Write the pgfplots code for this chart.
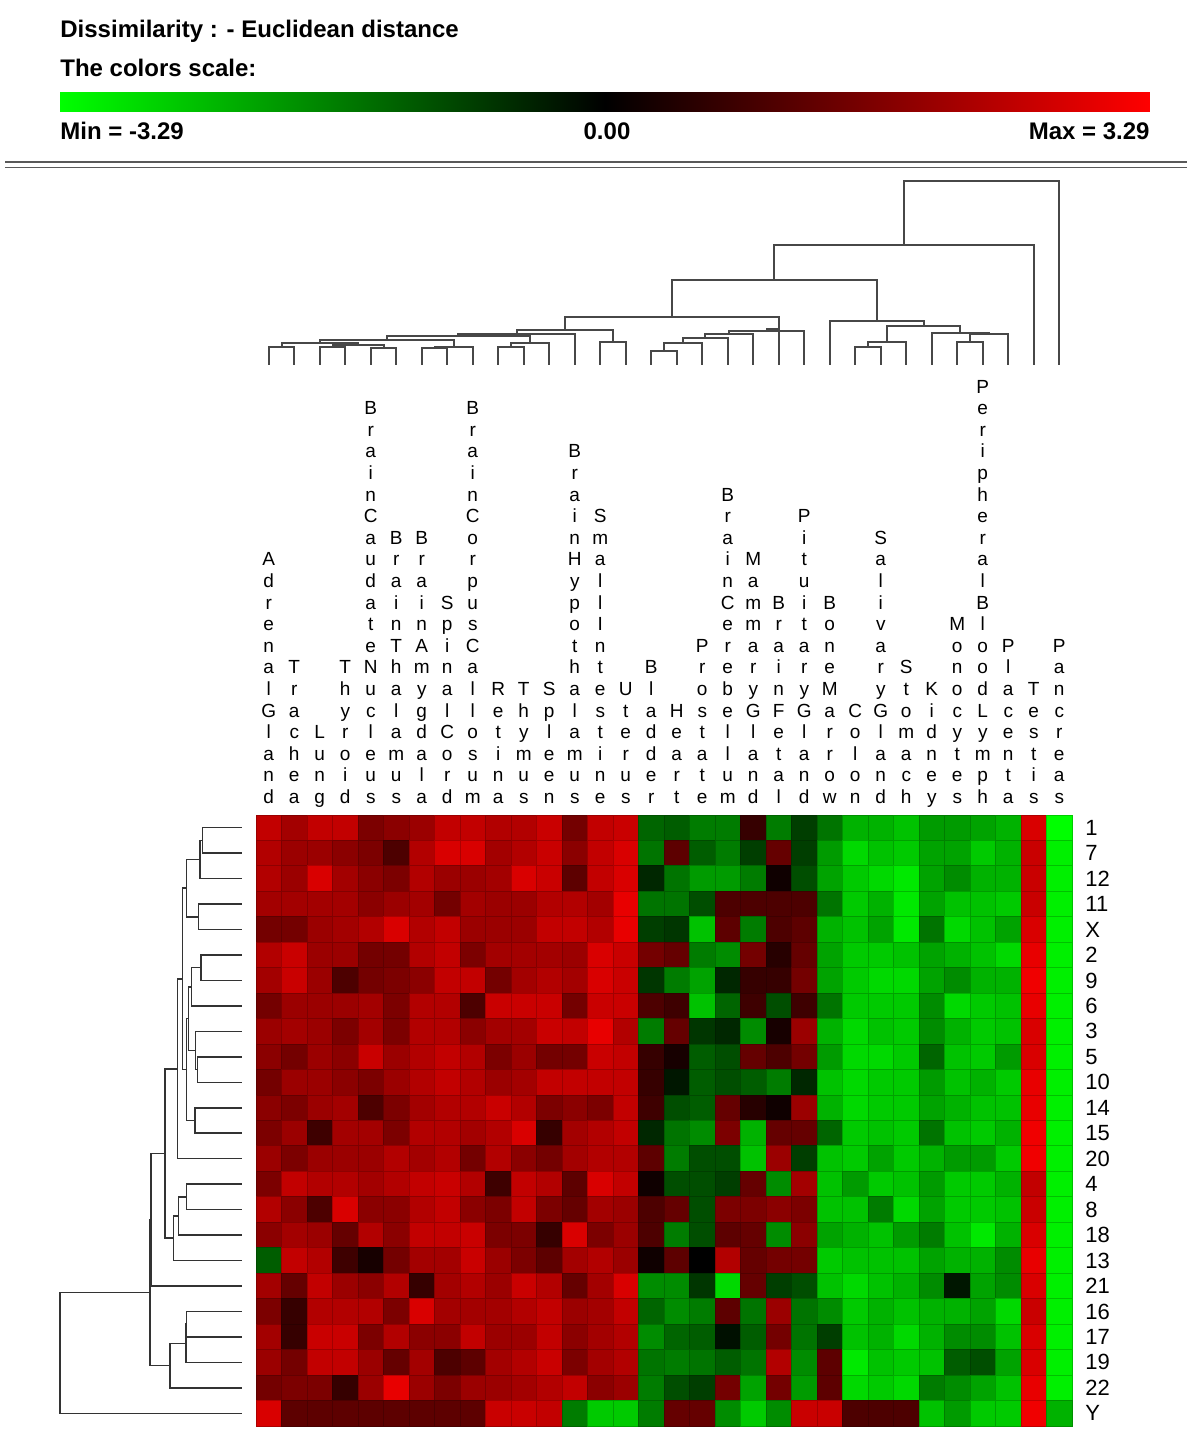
\documentclass[border=0pt]{standalone}
\usepackage{fontspec}
\setmainfont{Liberation Sans}
\usepackage{pgfplots}
\pgfplotsset{compat=1.18}
\usepackage{pgfplotstable}

\protected\def\vst#1{\vstA#1\relax}
\def\vstA#1#2{\strut#1\ifx\relax#2\expandafter\gobbleone\else\\\expandafter\vstA\fi#2}
\def\gobbleone#1{}

\pgfplotsset{
  colormap={gbr}{rgb255(0cm)=(0,255,0); rgb255(1cm)=(0,0,0); rgb255(2cm)=(255,0,0)},
  dt/.style={draw=black!72, line width=1pt, forget plot},
  dl/.style={draw=black!80, line width=0.75pt, forget plot},
}

\pgfplotstableread{
r c0 c1 c2 c3 c4 c5 c6 c7 c8 c9 c10 c11 c12 c13 c14 c15 c16 c17 c18 c19 c20 c21 c22 c23 c24 c25 c26 c27 c28 c29 c30 c31
0 2.5 2.1 2.5 2.5 1.6 1.8 2.0 2.5 2.5 2.3 2.3 2.6 1.5 2.5 2.6 -1.3 -1.2 -1.6 -1.6 0.7 -1.6 -0.8 -1.5 -2.3 -2.3 -2.5 -2.0 -2.0 -2.1 -2.3 2.8 -3.29
1 2.3 2.0 2.0 1.8 1.6 1.0 2.3 2.8 2.8 2.1 2.3 2.6 1.8 2.5 2.8 -1.5 1.2 -1.2 -1.6 -0.8 1.3 -0.8 -2.0 -2.8 -2.5 -2.6 -2.1 -2.1 -2.6 -2.3 2.6 -3.1
2 2.3 2.0 2.8 2.1 1.8 1.6 2.3 2.0 2.0 2.1 2.8 2.6 1.2 2.5 2.8 -0.5 -1.5 -2.0 -2.0 -1.6 0.2 -1.0 -2.1 -2.6 -2.8 -3.0 -2.1 -1.8 -2.3 -2.3 2.6 -3.1
3 2.1 2.1 2.1 2.1 1.8 2.0 2.1 1.5 2.1 2.0 2.0 2.3 2.3 2.1 3.0 -1.5 -1.5 -1.0 1.0 1.0 1.0 1.0 -1.5 -2.6 -2.3 -3.0 -2.1 -2.5 -2.5 -2.6 2.6 -3.1
4 1.5 1.5 2.0 2.1 2.3 2.8 2.3 2.5 2.0 2.0 2.0 2.5 2.5 2.3 3.0 -0.8 -0.7 -2.5 1.2 -1.6 1.0 1.2 -2.3 -2.5 -2.1 -3.0 -1.5 -2.8 -2.5 -2.1 2.8 -3.1
5 2.3 2.6 2.0 2.0 1.5 1.5 2.3 2.5 1.6 2.1 2.1 2.1 2.0 2.8 2.6 1.5 1.3 -1.6 -1.8 1.5 0.5 1.3 -2.1 -2.6 -2.6 -2.5 -2.1 -2.3 -2.5 -2.8 3.0 -3.1
6 2.1 2.6 2.0 1.0 1.5 1.6 1.8 2.5 2.5 1.5 2.1 2.3 2.1 2.8 2.6 -0.7 -1.6 -2.1 -0.5 0.7 0.7 1.5 -2.1 -2.6 -2.8 -2.8 -2.1 -1.8 -2.3 -2.3 3.1 -3.1
7 1.5 2.0 2.0 2.0 2.1 1.6 2.3 2.3 1.0 2.6 2.6 2.6 1.5 2.6 2.6 1.0 0.8 -2.5 -1.3 0.8 -1.0 0.8 -1.5 -2.6 -2.6 -2.6 -1.8 -2.8 -2.6 -2.5 3.0 -3.1
8 2.0 2.1 2.0 1.6 2.1 1.6 2.3 2.3 1.8 2.1 2.1 2.6 2.5 3.0 2.3 -1.6 1.3 -0.7 -0.5 -1.8 0.3 2.0 -2.3 -2.8 -2.5 -2.6 -1.8 -2.3 -2.6 -2.5 2.8 -3.1
9 1.8 1.5 2.0 1.8 2.6 2.0 2.3 2.5 2.3 1.6 2.0 1.5 1.5 2.6 2.5 0.7 0.3 -1.2 -1.0 1.3 1.0 1.5 -2.0 -2.8 -2.8 -2.6 -1.3 -2.5 -2.6 -2.0 2.8 -3.1
10 1.5 2.0 2.0 1.8 1.6 2.0 2.3 2.5 2.3 2.0 2.1 2.5 2.5 2.5 2.5 0.7 -0.3 -1.2 -1.0 -1.2 -1.6 -0.5 -2.5 -2.8 -2.6 -2.6 -2.0 -2.5 -2.3 -2.6 3.0 -3.1
11 1.8 1.6 2.0 2.1 1.0 1.6 2.1 2.3 2.3 2.6 2.3 1.6 1.8 1.6 2.5 0.8 -1.0 -1.2 1.3 0.5 0.2 2.0 -2.3 -2.8 -2.6 -2.6 -2.1 -2.3 -2.5 -2.5 3.0 -3.1
12 1.6 2.0 0.8 2.1 2.1 1.6 2.3 2.3 2.1 2.3 2.8 0.7 2.1 2.3 2.5 -0.5 -1.5 -1.8 1.6 -2.3 1.3 1.3 -1.3 -2.6 -2.5 -2.6 -1.5 -2.5 -2.6 -2.3 3.1 -3.1
13 2.0 1.6 2.0 2.0 2.0 2.3 2.1 2.3 1.5 2.3 1.8 1.5 2.1 2.3 2.3 1.2 -1.6 -1.0 -1.0 -2.5 2.0 -0.8 -2.5 -2.6 -2.1 -2.6 -2.3 -2.0 -2.0 -2.6 3.1 -3.1
14 1.6 2.5 2.3 2.3 2.1 2.3 2.5 2.6 2.3 0.8 2.5 2.3 1.2 2.8 2.5 0.2 -1.0 -1.0 -0.8 1.3 -1.8 2.1 -2.5 -2.0 -2.6 -2.5 -2.0 -2.6 -2.6 -2.3 2.5 -3.1
15 2.3 1.8 1.0 2.8 1.8 1.8 2.3 2.5 1.8 1.6 2.5 1.6 1.3 2.1 2.0 1.0 1.3 -1.0 1.6 1.6 1.8 1.6 -2.5 -2.5 -1.6 -2.8 -2.1 -2.6 -2.6 -2.5 2.6 -3.1
16 1.8 2.1 2.0 1.3 2.3 1.8 2.5 2.5 2.6 1.6 1.6 0.7 2.8 1.6 2.0 1.0 -1.6 -1.0 1.2 1.3 -1.8 1.8 -2.1 -2.3 -2.5 -2.0 -1.6 -2.5 -3.0 -2.3 2.8 -3.1
17 -1.2 2.5 2.3 0.8 0.3 1.5 2.1 2.1 2.6 2.0 1.6 1.2 2.1 2.3 2.0 0.2 1.2 0.0 2.3 1.3 1.5 1.5 -2.6 -2.5 -2.5 -2.5 -2.1 -2.3 -2.3 -1.8 3.0 -3.1
18 2.1 1.3 2.5 2.0 1.8 2.3 0.7 2.1 2.3 2.0 2.6 2.3 1.3 2.1 2.8 -1.8 -1.8 -0.7 -2.8 1.3 -0.8 -1.0 -2.5 -2.8 -2.5 -2.3 -1.8 -0.3 -2.1 -1.8 2.8 -3.1
19 1.6 0.7 2.3 2.3 2.3 1.6 2.8 2.1 2.1 2.1 2.3 2.5 2.0 2.1 2.5 -1.3 -1.8 -1.6 1.2 -1.5 2.0 -1.5 -1.8 -2.6 -2.3 -2.5 -2.3 -2.3 -2.1 -2.8 2.6 -3.1
20 2.1 0.7 2.6 2.6 1.6 2.3 1.8 1.8 2.5 2.0 2.0 2.5 1.8 2.1 2.3 -1.8 -1.3 -1.2 -0.2 -1.2 1.5 -1.5 -0.8 -2.5 -2.3 -2.8 -2.3 -1.8 -1.8 -2.5 2.8 -3.1
21 2.0 1.5 2.5 2.5 2.0 1.3 2.1 1.0 1.2 2.1 2.3 2.6 1.6 2.1 2.3 -1.5 -1.6 -1.5 -1.2 -1.5 2.3 -1.8 1.2 -3.0 -2.5 -2.6 -2.5 -1.2 -1.0 -2.1 2.8 -3.1
22 1.5 1.6 1.6 0.7 2.0 3.0 2.0 1.6 2.0 2.0 2.1 2.3 2.5 1.8 2.0 -1.6 -1.0 -0.8 1.5 -2.1 1.5 -2.0 1.2 -2.8 -2.6 -2.8 -1.6 -1.8 -2.1 -2.5 3.0 -3.1
23 2.8 1.2 1.2 1.2 1.2 1.2 1.2 1.2 1.2 2.6 2.6 2.5 -1.6 -2.6 -2.6 -1.6 1.3 1.3 -1.8 -2.6 -1.8 2.6 2.6 1.0 1.0 1.0 -2.5 -2.0 -2.6 -2.6 3.1 -2.3
}\heat

\begin{document}
\begin{tikzpicture}
\path[use as bounding box] (0,0) rectangle (600pt,725pt);

% header
\node[anchor=base west, inner sep=0pt, font=\bfseries\fontsize{12}{14}\selectfont] at (30pt,706pt) {Dissimilarity : - Euclidean distance};
\node[anchor=base west, inner sep=0pt, font=\bfseries\fontsize{12}{14}\selectfont] at (30pt,686.5pt) {The colors scale:};
\node[anchor=base west, inner sep=0pt, font=\bfseries\fontsize{12}{14}\selectfont] at (30pt,655pt) {Min = -3.29};
\node[anchor=base, inner sep=0pt, font=\bfseries\fontsize{12}{14}\selectfont] at (303.5pt,655pt) {0.00};
\node[anchor=base east, inner sep=0pt, font=\bfseries\fontsize{12}{14}\selectfont] at (575pt,655pt) {Max = 3.29};
\draw[black!65, line width=0.8pt] (2.5pt,643.9pt) -- (593.5pt,643.9pt);
\draw[black!65, line width=0.8pt] (2.5pt,641.2pt) -- (593.5pt,641.2pt);

% colour scale
\begin{axis}[at={(30pt,679pt)}, anchor=north west,
  scale only axis, width=545pt, height=10pt,
  xmin=-3.29, xmax=3.29, ymin=0, ymax=1, view={0}{90},
  hide axis, point meta min=-3.29, point meta max=3.29]
\addplot3[surf, shader=interp, mesh/cols=3, point meta=explicit] coordinates {
(-3.29,0,0) [-3.29] (0,0,0) [0] (3.29,0,0) [3.29]
(-3.29,1,0) [-3.29] (0,1,0) [0] (3.29,1,0) [3.29]
};
\end{axis}

% heatmap
\begin{axis}[name=heat,
  at={(128pt,317.5pt)}, anchor=north west,
  scale only axis, width=408pt, height=305.5pt,
  xmin=-0.5, xmax=31.5, ymin=-0.5, ymax=23.5, y dir=reverse,
  axis line style={draw=none}, major tick length=0pt,
  point meta min=-3.29, point meta max=3.29,
  xtick={0,...,31}, xticklabel pos=right,
  xticklabels={\vst{AdrenalGland},\vst{Trachea},\vst{Lung},\vst{Thyroid},\vst{BrainCaudateNucleus},\vst{BrainThalamus},\vst{BrainAmygdala},\vst{SpinalCord},\vst{BrainCorpusCallosum},\vst{Retina},\vst{Thymus},\vst{Spleen},\vst{BrainHypothalamus},\vst{SmallIntestine},\vst{Uterus},\vst{Bladder},\vst{Heart},\vst{Prostate},\vst{BrainCerebellum},\vst{MammaryGland},\vst{BrainFetal},\vst{PituitaryGland},\vst{BoneMarrow},\vst{Colon},\vst{SalivaryGland},\vst{Stomach},\vst{Kidney},\vst{Monocytes},\vst{PeripheralBloodLymph},\vst{Placenta},\vst{Testis},\vst{Pancreas}},
  xticklabel style={anchor=south, align=center, inner sep=0pt, yshift=2.3pt, font=\fontsize{9.5}{10.8}\selectfont},
  ytick={0,...,23}, yticklabel pos=right,
  yticklabels={1,7,12,11,X,2,9,6,3,5,10,14,15,20,4,8,18,13,21,16,17,19,22,Y},
  yticklabel style={anchor=west, inner sep=0pt, xshift=6.5pt, font=\fontsize{11}{13}\selectfont},
]
\pgfplotsinvokeforeach{0,...,31}{
  \addplot[scatter, only marks, mark=square*, mark size=6.4pt, point meta=explicit]
    table[x expr=#1, y=r, meta=c#1] {\heat};
}
\end{axis}

% top dendrogram (columns)
\begin{axis}[at={(128pt,637.5pt)}, anchor=north west,
  scale only axis, width=408pt, height=97.5pt,
  xmin=-0.5, xmax=31.5, ymin=175, ymax=370, y dir=reverse,
  hide axis, clip=false]
\addplot[dt] coordinates {(0,365)(0,347)(1,347)(1,365)};
\addplot[dt] coordinates {(2,365)(2,347)(3,347)(3,365)};
\addplot[dt] coordinates {(4,365)(4,348.5)(5,348.5)(5,365)};
\addplot[dt] coordinates {(2.5,347)(2.5,345)(4.5,345)(4.5,348.5)};
\addplot[dt] coordinates {(0.5,347)(0.5,343)(3.5,343)(3.5,345)};
\addplot[dt] coordinates {(6,365)(6,348)(7,348)(7,365)};
\addplot[dt] coordinates {(6.5,348)(6.5,347)(8,347)(8,365)};
\addplot[dt] coordinates {(2,343)(2,339.7)(7.25,339.7)(7.25,347)};
\addplot[dt] coordinates {(9,365)(9,347.3)(10,347.3)(10,365)};
\addplot[dt] coordinates {(9.5,347.3)(9.5,343)(11,343)(11,365)};
\addplot[dt] coordinates {(4.625,339.7)(4.625,336.3)(10.25,336.3)(10.25,343)};
\addplot[dt] coordinates {(7.4375,336.3)(7.4375,334.3)(12,334.3)(12,365)};
\addplot[dt] coordinates {(13,365)(13,341.7)(14,341.7)(14,365)};
\addplot[dt] coordinates {(9.71875,334.3)(9.71875,330)(13.5,330)(13.5,341.7)};
\addplot[dt] coordinates {(15,365)(15,350.7)(16,350.7)(16,365)};
\addplot[dt] coordinates {(15.5,350.7)(15.5,343)(17,343)(17,365)};
\addplot[dt] coordinates {(16.25,343)(16.25,338)(18,338)(18,365)};
\addplot[dt] coordinates {(17.125,338)(17.125,334)(19,334)(19,365)};
\addplot[dt] coordinates {(18.0625,334)(18.0625,331)(21,331)(21,365)};
\addplot[dt] coordinates {(19.531,331)(19.531,329)(20,329)(20,365)};
\addplot[dt] coordinates {(11.609,330)(11.609,316.7)(20,316.7)(20,329)};
\addplot[dt] coordinates {(23,365)(23,346.7)(24,346.7)(24,365)};
\addplot[dt] coordinates {(23.5,346.7)(23.5,342.3)(25,342.3)(25,365)};
\addplot[dt] coordinates {(27,365)(27,341.7)(28,341.7)(28,365)};
\addplot[dt] coordinates {(27.5,341.7)(27.5,333.7)(29,333.7)(29,365)};
\addplot[dt] coordinates {(26,365)(26,332.7)(28.25,332.7)(28.25,333.7)};
\addplot[dt] coordinates {(24.25,342.3)(24.25,325.7)(27.125,325.7)(27.125,332.7)};
\addplot[dt] coordinates {(22,365)(22,320.7)(25.6875,320.7)(25.6875,325.7)};
\addplot[dt] coordinates {(15.8045,316.7)(15.8045,280)(23.84375,280)(23.84375,320.7)};
\addplot[dt] coordinates {(19.824,280)(19.824,245)(30,245)(30,365)};
\addplot[dt] coordinates {(24.912,245)(24.912,181)(31,181)(31,365)};
\end{axis}

% left dendrogram (rows)
\begin{axis}[at={(20pt,317.5pt)}, anchor=north west,
  scale only axis, width=105pt, height=305.5pt,
  xmin=40, xmax=250, ymin=-0.5, ymax=23.5, y dir=reverse,
  hide axis, clip=false]
\addplot[dl] coordinates {(241.7,0)(202.3,0)(202.3,1)(241.7,1)};
\addplot[dl] coordinates {(202.3,0.5)(200,0.5)(200,2)(241.7,2)};
\addplot[dl] coordinates {(241.7,3)(198.3,3)(198.3,4)(241.7,4)};
\addplot[dl] coordinates {(200,1.25)(186.7,1.25)(186.7,3.5)(198.3,3.5)};
\addplot[dl] coordinates {(241.7,5)(201,5)(201,6)(241.7,6)};
\addplot[dl] coordinates {(201,5.5)(191.7,5.5)(191.7,7)(241.7,7)};
\addplot[dl] coordinates {(241.7,9)(197.7,9)(197.7,10)(241.7,10)};
\addplot[dl] coordinates {(241.7,8)(195.7,8)(195.7,9.5)(197.7,9.5)};
\addplot[dl] coordinates {(191.7,6.25)(188.3,6.25)(188.3,8.75)(195.7,8.75)};
\addplot[dl] coordinates {(241.7,11)(195,11)(195,12)(241.7,12)};
\addplot[dl] coordinates {(188.3,7.5)(186.7,7.5)(186.7,11.5)(195,11.5)};
\addplot[dl] coordinates {(186.7,2.375)(182.7,2.375)(182.7,9.5)(186.7,9.5)};
\addplot[dl] coordinates {(182.7,5.9375)(177.5,5.9375)(177.5,13)(241.7,13)};
\addplot[dl] coordinates {(241.7,14)(186.7,14)(186.7,15)(241.7,15)};
\addplot[dl] coordinates {(186.7,14.5)(178.3,14.5)(178.3,16)(241.7,16)};
\addplot[dl] coordinates {(178.3,15.25)(173.3,15.25)(173.3,17)(241.7,17)};
\addplot[dl] coordinates {(177.5,9.46875)(165,9.46875)(165,16.125)(173.3,16.125)};
\addplot[dl] coordinates {(165,12.797)(151,12.797)(151,18)(241.7,18)};
\addplot[dl] coordinates {(241.7,19)(186.7,19)(186.7,20)(241.7,20)};
\addplot[dl] coordinates {(186.7,19.5)(186,19.5)(186,21)(241.7,21)};
\addplot[dl] coordinates {(186,20.25)(170,20.25)(170,22)(241.7,22)};
\addplot[dl] coordinates {(151,15.398)(150,15.398)(150,21.125)(170,21.125)};
\addplot[dl] coordinates {(150,18.262)(60,18.262)(60,23)(241.7,23)};
\end{axis}
\end{tikzpicture}
\end{document}
